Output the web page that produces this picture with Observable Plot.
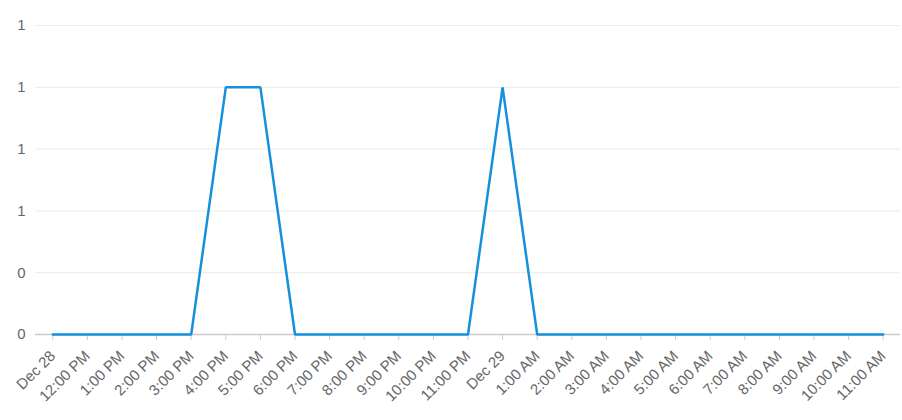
<!DOCTYPE html>
<html>
<head>
<meta charset="utf-8">
<script src="https://cdn.jsdelivr.net/npm/d3@7"></script>
<script src="https://cdn.jsdelivr.net/npm/@observablehq/plot@0.6"></script>
<style>
  html, body { margin: 0; padding: 0; background: #fff; }
  #chart { width: 902px; height: 420px; }
</style>
</head>
<body>
<div id="chart"></div>
<script>
const times = [
  "2023-12-28T11:00Z","2023-12-28T12:00Z","2023-12-28T13:00Z","2023-12-28T14:00Z",
  "2023-12-28T15:00Z","2023-12-28T16:00Z","2023-12-28T17:00Z","2023-12-28T18:00Z",
  "2023-12-28T19:00Z","2023-12-28T20:00Z","2023-12-28T21:00Z","2023-12-28T22:00Z",
  "2023-12-28T23:00Z","2023-12-29T00:00Z","2023-12-29T01:00Z","2023-12-29T02:00Z",
  "2023-12-29T03:00Z","2023-12-29T04:00Z","2023-12-29T05:00Z","2023-12-29T06:00Z",
  "2023-12-29T07:00Z","2023-12-29T08:00Z","2023-12-29T09:00Z","2023-12-29T10:00Z",
  "2023-12-29T11:00Z"
];
const values = [0,0,0,0,0,1,1,0,0,0,0,0,0,1,0,0,0,0,0,0,0,0,0,0,0];
const yTicks = [0, 0.25, 0.5, 0.75, 1, 1.25];

const data = times.map((t, i) => ({date: new Date(t), value: values[i]}));
const months = ["Jan","Feb","Mar","Apr","May","Jun","Jul","Aug","Sep","Oct","Nov","Dec"];
function fmtTick(d, i) {
  const h = d.getUTCHours();
  if (i === 0 || h === 0) return months[d.getUTCMonth()] + " " + d.getUTCDate();
  const hh = h % 12 === 0 ? 12 : h % 12;
  return hh + ":00 " + (h < 12 ? "AM" : "PM");
}
const first = data[0].date, last = data[data.length - 1].date;
const half = 30 * 60 * 1000;

const chart = Plot.plot({
  width: 902,
  height: 420,
  marginLeft: 35,
  marginRight: 2,
  marginTop: 25,
  marginBottom: 86,
  style: {fontSize: "15px", fontFamily: "Arial, 'Liberation Sans', sans-serif", color: "#666"},
  x: {type: "utc", domain: [new Date(+first - half), new Date(+last + half)]},
  y: {domain: [0, 1.25]},
  marks: [
    Plot.gridY(yTicks, {stroke: "#ebebeb", strokeOpacity: 1}),
    Plot.axisY(yTicks, {tickSize: 0, tickPadding: 10, fill: "#666", fontSize: 15, tickFormat: d => String(Math.round(d)), label: null}),
    Plot.ruleY([0], {stroke: "#cccccc", strokeWidth: 1.5}),
    Plot.axisX(times.map(t => new Date(t)), {tickSize: 6, stroke: "#cccccc", fill: "#666", fontSize: 15, tickRotate: -45, tickPadding: 13, tickFormat: fmtTick, label: null}),
    Plot.line(data, {x: "date", y: "value", stroke: "#1590de", strokeWidth: 2.5, strokeLinejoin: "miter"})
  ]
});
document.getElementById("chart").appendChild(chart);
</script>
</body>
</html>
